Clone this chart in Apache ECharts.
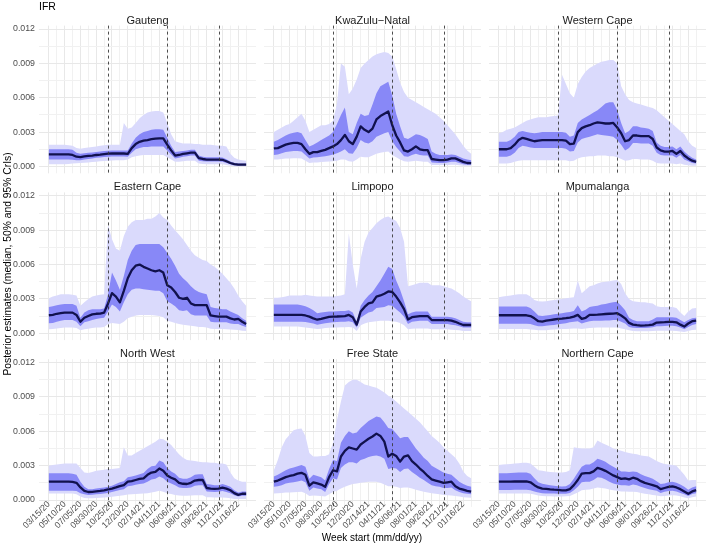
<!DOCTYPE html>
<html><head><meta charset="utf-8">
<script src="https://cdn.jsdelivr.net/npm/echarts@6/dist/echarts.min.js"></script>
<style>html,body{margin:0;padding:0;background:#fff}#c{width:707px;height:552px}</style>
</head><body><div id="c"></div>
<script>
// ---- data (IFR values stored in units of 0.001, i.e. per mille) ----
const weeks = [0,2,4,6,8,10,12,14,16,18,20,22,24,26,28,30,32,34,36,38,40,42,44,46,48,50,52,54,56,58,60,62,64,66,68,70,72,74,76,78,80,82,84,86,88,90,92,94,96,98,100];
const tickWeeks = [0,8,16,24,32,40,48,56,64,72,80,88,96];
const tickLabels = ['03/15/20','05/10/20','07/05/20','08/30/20','10/25/20','12/20/20','02/14/21','04/11/21','06/06/21','08/01/21','09/26/21','11/21/21','01/16/22'];
const yTickValues = [0,0.003,0.006,0.009,0.012];
const yTickLabels = ['0.000','0.003','0.006','0.009','0.012'];
const waveWeeks = [30,60,86];
const provinceNames = ['Gauteng','KwaZulu\u2212Natal','Western Cape','Eastern Cape','Limpopo','Mpumalanga','North West','Free State','Northern Cape'];

const gautengMed = [1.05,1.05,1.05,1.05,1.05,1.05,1.0,0.85,0.82,0.88, 0.92,0.95,1.0,1.03,1.08,1.12,1.13,1.13,1.13,1.13, 1.1,1.6,1.95,2.15,2.25,2.3,2.38,2.42,2.45,2.45, 1.9,1.4,0.95,1.0,1.1,1.15,1.2,1.2,0.72,0.65, 0.6,0.6,0.6,0.6,0.58,0.45,0.3,0.2,0.15,0.15, 0.15];
const gautengHi50 = [1.5,1.5,1.5,1.5,1.5,1.5,1.45,1.2,1.1,1.15, 1.2,1.22,1.25,1.3,1.35,1.38,1.4,1.4,1.4,1.4, 1.4,2.0,2.5,2.8,3.0,3.1,3.2,3.25,3.25,3.2, 2.5,1.8,1.25,1.3,1.35,1.4,1.45,1.45,0.95,0.85, 0.8,0.8,0.8,0.8,0.78,0.62,0.42,0.3,0.25,0.25, 0.25];
const gautengLo50 = [0.6,0.6,0.6,0.6,0.6,0.6,0.58,0.55,0.55,0.6, 0.65,0.7,0.75,0.78,0.82,0.85,0.87,0.87,0.87,0.87, 0.85,1.2,1.5,1.6,1.7,1.7,1.75,1.75,1.75,1.75, 1.4,1.05,0.7,0.75,0.85,0.9,0.95,0.95,0.5,0.45, 0.42,0.42,0.42,0.42,0.4,0.3,0.18,0.1,0.08,0.08, 0.08];
const gautengHi95 = [1.9,1.9,1.9,1.9,1.9,1.85,1.8,1.6,1.55,1.6, 1.65,1.7,1.75,1.8,1.85,1.9,1.9,1.9,1.9,3.8, 3.3,3.4,3.8,4.2,4.5,4.7,4.8,4.85,4.85,4.7, 3.8,2.8,2.2,2.1,2.0,2.0,2.0,1.95,1.95,1.9, 1.9,1.9,1.85,1.8,1.8,1.75,1.1,0.75,0.6,0.55, 0.5];
const gautengLo95 = [0.2,0.2,0.2,0.2,0.2,0.22,0.25,0.28,0.3,0.32, 0.35,0.38,0.4,0.45,0.48,0.5,0.52,0.55,0.55,0.55, 0.6,0.8,0.9,0.95,1.0,1.0,1.0,1.0,1.0,1.0, 0.8,0.6,0.4,0.4,0.45,0.5,0.5,0.5,0.25,0.22, 0.2,0.2,0.2,0.2,0.18,0.12,0.05,0.02,0.02,0.02, 0.02];

const kznMed = [1.57,1.6,1.75,1.9,2.0,2.05,2.05,1.95,1.5,1.1, 1.25,1.25,1.35,1.45,1.6,1.75,1.95,2.3,2.75,2.2, 1.95,2.6,3.5,3.2,3.0,3.3,4.1,4.4,4.6,4.8, 3.6,2.7,2.1,1.4,1.3,1.5,1.75,1.5,1.42,1.42, 0.65,0.6,0.55,0.55,0.6,0.7,0.7,0.55,0.4,0.3, 0.28];
const kznHi50 = [2.15,2.3,2.5,2.7,2.85,2.95,3.0,2.9,2.3,1.75, 1.9,2.1,2.3,2.5,2.7,3.0,3.7,4.5,5.15,3.0, 2.8,3.8,4.6,4.4,4.5,5.4,6.4,7.0,7.2,7.4, 6.2,4.6,3.5,2.5,2.4,2.6,2.8,2.75,2.6,2.4, 1.3,1.1,1.0,1.0,1.0,1.05,1.0,0.85,0.7,0.6, 0.55];
const kznLo50 = [1.0,1.05,1.15,1.25,1.3,1.35,1.35,1.3,1.0,0.7, 0.78,0.8,0.85,0.9,0.95,1.05,1.15,1.3,1.5,1.15, 1.1,1.6,2.3,2.1,2.0,2.2,2.6,2.75,2.9,3.0, 2.2,1.7,1.3,0.9,0.85,1.0,1.1,1.0,0.95,0.95, 0.35,0.32,0.3,0.3,0.35,0.4,0.4,0.3,0.2,0.15, 0.15];
const kznHi95 = [3.0,3.2,3.4,3.6,3.7,4.0,4.3,4.6,4.0,3.0, 3.2,3.4,3.6,3.6,3.7,4.0,5.5,9.0,8.7,6.3, 6.8,7.6,8.6,9.0,9.3,9.6,9.8,9.9,10.0,9.9, 9.6,8.5,7.3,6.5,6.0,5.8,5.6,5.4,5.2,5.0, 4.8,4.6,4.3,4.0,3.6,3.2,2.8,2.3,1.8,1.4, 1.1];
const kznLo95 = [0.6,0.6,0.65,0.7,0.7,0.72,0.72,0.7,0.5,0.3, 0.35,0.35,0.38,0.4,0.42,0.45,0.5,0.6,0.6,0.45, 0.4,0.6,0.85,0.8,0.8,0.95,1.1,1.2,1.25,1.3, 1.0,0.8,0.6,0.45,0.4,0.45,0.5,0.45,0.4,0.4, 0.12,0.12,0.12,0.12,0.12,0.15,0.15,0.1,0.07,0.05, 0.05];

const westernCapeMed = [1.5,1.5,1.5,1.6,1.9,2.3,2.5,2.4,2.3,2.2, 2.25,2.3,2.3,2.3,2.3,2.3,2.3,2.25,1.95,2.0, 3.0,3.35,3.5,3.6,3.75,3.85,3.8,3.75,3.75,3.8, 3.4,2.9,2.2,2.3,2.7,2.7,2.65,2.65,2.65,2.4, 1.65,1.4,1.3,1.3,1.35,1.1,1.35,0.95,0.7,0.5, 0.4];
const westernCapeHi50 = [2.15,2.15,2.15,2.3,2.6,3.0,3.1,3.0,2.95,2.9, 2.95,3.0,3.0,3.0,3.0,3.0,3.0,2.95,2.6,2.7, 3.8,4.1,4.3,4.5,4.7,4.9,5.2,5.5,5.6,5.6, 4.9,3.8,2.9,3.1,3.5,3.5,3.4,3.35,3.3,3.1, 2.1,1.8,1.7,1.7,1.75,1.5,1.75,1.3,1.0,0.75, 0.6];
const westernCapeLo50 = [0.85,0.85,0.85,0.95,1.2,1.6,1.8,1.75,1.65,1.6, 1.6,1.6,1.6,1.6,1.6,1.6,1.6,1.55,1.3,1.35, 2.1,2.4,2.5,2.6,2.7,2.8,2.75,2.7,2.65,2.6, 2.3,1.9,1.4,1.6,2.05,2.05,2.0,2.0,2.0,1.8, 1.2,1.0,0.95,0.95,0.95,0.75,1.0,0.6,0.45,0.3, 0.25];
const westernCapeHi95 = [2.9,3.0,3.2,3.3,3.4,3.6,3.8,4.0,4.1,4.2, 4.3,4.3,4.3,4.35,4.4,4.45,8.0,7.2,6.4,6.0, 7.2,7.8,8.3,8.6,8.8,9.0,9.15,9.2,9.3,9.3, 9.0,7.0,6.3,5.8,5.6,5.5,5.4,5.3,5.2,5.1, 4.9,4.6,4.3,4.0,3.7,3.4,3.1,2.8,2.2,1.8, 1.6];
const westernCapeLo95 = [0.25,0.25,0.25,0.3,0.4,0.5,0.55,0.55,0.55,0.55, 0.55,0.55,0.55,0.55,0.55,0.55,0.55,0.55,0.45,0.5, 0.7,0.8,0.85,0.9,0.9,0.95,0.95,0.95,0.9,0.9, 0.8,0.65,0.5,0.55,0.65,0.65,0.6,0.6,0.6,0.5, 0.3,0.25,0.25,0.25,0.25,0.2,0.25,0.15,0.1,0.07, 0.05];

const easternCapeMed = [1.57,1.6,1.7,1.75,1.8,1.8,1.8,1.6,1.0,1.35, 1.5,1.65,1.7,1.72,1.8,2.6,3.5,3.2,2.7,3.7, 4.8,5.5,5.9,6.0,5.8,5.65,5.5,5.4,5.5,5.3, 4.2,4.0,3.6,3.1,3.0,3.1,2.6,2.45,2.45,2.45, 2.45,1.55,1.5,1.45,1.45,1.45,1.3,1.2,1.25,1.0, 0.8];
const easternCapeHi50 = [2.3,2.35,2.45,2.5,2.55,2.55,2.55,2.4,1.35,1.8, 2.0,2.1,2.1,2.1,2.15,3.4,5.3,4.6,3.8,5.0, 6.4,7.2,7.7,7.8,7.8,7.8,7.8,7.8,7.8,7.5, 7.0,6.5,5.9,5.2,4.8,4.5,4.1,3.8,3.6,3.5, 3.4,2.3,2.2,2.15,2.1,2.1,1.9,1.75,1.6,1.3, 1.1];
const easternCapeLo50 = [0.87,0.9,1.0,1.1,1.15,1.15,1.15,1.0,0.6,0.95, 1.05,1.15,1.25,1.3,1.35,1.9,2.5,2.3,1.9,2.7, 3.4,3.8,3.9,3.9,3.85,3.8,3.75,3.7,3.7,3.5, 2.8,2.6,2.35,2.0,1.95,2.0,1.65,1.55,1.55,1.55, 1.55,1.0,0.95,0.95,0.95,0.95,0.85,0.8,0.8,0.65, 0.55];
const easternCapeHi95 = [3.05,3.2,3.3,3.4,3.4,3.4,3.35,3.3,2.4,2.7, 3.0,3.2,3.3,3.35,3.4,9.5,8.2,7.4,7.2,8.5, 9.3,9.7,9.9,9.9,9.9,10.0,10.0,10.2,10.5,10.1, 9.9,9.4,9.0,8.6,8.2,7.7,7.2,6.8,6.6,6.4, 6.3,6.0,5.8,5.5,5.2,4.8,4.4,3.9,3.3,2.8, 2.4];
const easternCapeLo95 = [0.35,0.38,0.42,0.45,0.5,0.5,0.5,0.45,0.25,0.35, 0.4,0.45,0.5,0.5,0.55,0.8,0.9,0.85,0.8,1.0, 1.3,1.45,1.55,1.6,1.6,1.6,1.6,1.55,1.5,1.4, 1.1,1.0,0.9,0.8,0.75,0.7,0.65,0.6,0.55,0.55, 0.5,0.4,0.38,0.37,0.36,0.35,0.32,0.3,0.28,0.22, 0.2];

const limpopoMed = [1.6,1.6,1.6,1.6,1.6,1.6,1.6,1.6,1.55,1.45, 1.3,1.18,1.25,1.35,1.42,1.45,1.46,1.48,1.5,1.6, 1.4,0.75,1.9,2.3,2.6,2.7,3.2,3.3,3.45,3.65, 3.6,3.2,2.7,2.1,1.2,1.4,1.45,1.5,1.5,1.5, 1.15,1.15,1.15,1.15,1.15,1.1,1.0,0.85,0.72,0.72, 0.72];
const limpopoHi50 = [2.5,2.5,2.5,2.5,2.5,2.5,2.5,2.45,2.35,2.2, 2.0,1.75,1.8,1.85,1.9,1.9,1.92,1.95,1.95,2.0, 1.8,1.0,2.4,2.9,3.3,3.6,4.1,4.6,5.2,5.8, 5.6,4.6,3.8,2.8,1.65,1.8,1.9,1.9,1.9,1.9, 1.45,1.45,1.45,1.45,1.45,1.4,1.3,1.15,1.0,0.95, 0.95];
const limpopoLo50 = [1.0,1.0,1.0,1.0,1.0,1.0,1.0,1.0,0.98,0.92, 0.85,0.75,0.8,0.88,0.92,0.95,0.97,1.0,1.0,1.05, 0.95,0.5,1.35,1.6,1.8,1.9,2.2,2.25,2.3,2.45, 2.4,2.1,1.8,1.45,0.8,1.0,1.05,1.1,1.1,1.1, 0.8,0.8,0.8,0.8,0.8,0.75,0.7,0.6,0.5,0.5, 0.5];
const limpopoHi95 = [3.1,3.1,3.15,3.2,3.3,3.3,3.3,3.3,3.35,3.3, 3.25,3.2,3.2,3.2,3.2,3.2,3.25,3.3,3.4,8.7, 6.0,3.9,6.5,8.0,8.8,9.2,9.6,9.9,10.1,10.2, 10.0,9.8,9.2,8.0,4.1,4.2,4.3,4.4,4.4,4.4, 4.2,4.2,4.2,4.1,4.0,3.9,3.7,3.5,3.2,3.0, 2.8];
const limpopoLo95 = [0.58,0.58,0.58,0.58,0.58,0.58,0.58,0.55,0.5,0.45, 0.42,0.38,0.4,0.45,0.48,0.5,0.5,0.52,0.52,0.55, 0.5,0.2,0.7,0.85,0.95,1.0,1.05,1.1,1.1,1.1, 1.05,1.0,0.9,0.7,0.35,0.4,0.42,0.42,0.42,0.42, 0.35,0.35,0.35,0.35,0.35,0.3,0.28,0.25,0.2,0.2, 0.2];

const mpumalangaMed = [1.57,1.57,1.57,1.57,1.57,1.57,1.57,1.57,1.5,1.3, 1.05,1.02,1.1,1.15,1.2,1.25,1.28,1.32,1.37,1.45, 1.6,1.25,1.35,1.6,1.6,1.62,1.65,1.68,1.7,1.72, 1.75,1.55,1.3,0.9,0.75,0.7,0.67,0.68,0.7,0.75, 0.93,0.95,0.97,1.0,1.0,0.95,0.75,0.58,0.85,1.05, 1.1];
const mpumalangaHi50 = [2.33,2.33,2.33,2.33,2.33,2.33,2.33,2.33,2.2,1.9, 1.55,1.5,1.55,1.6,1.65,1.7,1.75,1.8,1.85,1.95, 2.45,1.9,2.05,2.3,2.35,2.4,2.5,2.55,2.65,2.7, 2.75,2.4,2.0,1.35,1.15,1.05,1.05,1.05,1.05,1.2, 1.4,1.4,1.4,1.4,1.4,1.35,1.15,0.95,1.15,1.3, 1.35];
const mpumalangaLo50 = [0.82,0.82,0.82,0.82,0.82,0.82,0.82,0.82,0.8,0.7, 0.6,0.6,0.65,0.7,0.72,0.78,0.82,0.88,0.95,1.0, 1.05,0.85,0.95,1.05,1.08,1.1,1.1,1.12,1.12,1.15, 1.15,1.0,0.85,0.55,0.48,0.45,0.45,0.45,0.48,0.52, 0.6,0.62,0.64,0.65,0.65,0.62,0.5,0.35,0.55,0.72, 0.8];
const mpumalangaHi95 = [3.15,3.2,3.25,3.3,3.35,3.4,3.4,3.4,3.2,2.9, 2.8,2.78,2.8,2.85,2.9,2.95,3.0,3.05,3.1,3.15, 4.6,3.5,3.8,4.1,4.2,4.35,4.45,4.5,4.55,4.6, 4.65,4.3,3.5,3.0,2.8,2.75,2.7,2.7,2.65,2.6, 2.35,2.3,2.3,2.3,2.3,2.2,1.8,1.5,1.9,2.15, 2.2];
const mpumalangaLo95 = [0.38,0.38,0.38,0.38,0.38,0.38,0.38,0.36,0.33,0.3, 0.26,0.25,0.27,0.3,0.32,0.34,0.36,0.38,0.4,0.42, 0.42,0.38,0.42,0.45,0.48,0.5,0.5,0.5,0.5,0.5, 0.5,0.42,0.35,0.25,0.2,0.18,0.18,0.18,0.18,0.2, 0.22,0.22,0.22,0.22,0.22,0.2,0.15,0.1,0.2,0.28, 0.3];

const northWestMed = [1.6,1.6,1.6,1.6,1.6,1.6,1.58,1.5,1.1,0.8, 0.7,0.72,0.76,0.8,0.85,0.92,1.0,1.1,1.22,1.3, 1.6,1.65,1.75,1.85,1.9,2.2,2.4,2.45,2.75,2.55, 2.15,1.95,1.8,1.5,1.42,1.4,1.5,1.7,1.75,1.75, 1.05,1.0,0.97,1.0,1.08,1.0,0.85,0.6,0.45,0.55, 0.55];
const northWestHi50 = [2.33,2.33,2.33,2.33,2.33,2.33,2.3,2.2,1.6,1.15, 0.95,0.95,1.0,1.05,1.1,1.15,1.25,1.4,1.55,1.65, 2.0,2.05,2.15,2.25,2.35,2.7,2.95,3.0,3.45,3.3, 2.8,2.5,2.3,1.95,1.85,1.85,2.0,2.2,2.25,2.25, 1.4,1.35,1.3,1.3,1.4,1.3,1.15,0.85,0.65,0.75, 0.75];
const northWestLo50 = [0.82,0.82,0.82,0.82,0.82,0.82,0.8,0.78,0.6,0.5, 0.45,0.47,0.5,0.53,0.57,0.62,0.7,0.78,0.88,0.95, 1.2,1.25,1.33,1.4,1.45,1.6,1.8,1.85,2.05,1.9, 1.6,1.45,1.3,1.1,1.05,1.05,1.1,1.25,1.3,1.3, 0.75,0.72,0.7,0.72,0.78,0.7,0.6,0.42,0.3,0.38, 0.38];
const northWestHi95 = [3.0,3.05,3.1,3.15,3.2,3.2,3.2,3.2,2.8,2.4, 2.35,2.45,2.55,2.6,2.65,2.7,2.7,2.75,2.8,4.6, 3.9,3.9,4.1,4.3,4.5,4.7,4.9,5.1,5.35,5.3, 5.1,4.8,4.4,4.0,3.7,3.5,3.45,3.4,3.35,3.3, 3.3,3.25,3.25,3.2,3.2,3.1,2.4,1.9,1.7,1.6, 1.6];
const northWestLo95 = [0.58,0.58,0.58,0.58,0.58,0.58,0.56,0.5,0.3,0.18, 0.15,0.16,0.18,0.2,0.22,0.25,0.28,0.32,0.38,0.42, 0.48,0.5,0.52,0.55,0.58,0.6,0.65,0.72,0.8,0.72, 0.6,0.52,0.45,0.4,0.38,0.38,0.4,0.42,0.42,0.42, 0.25,0.24,0.22,0.22,0.22,0.2,0.15,0.1,0.08,0.1, 0.1];

const freeStateMed = [1.6,1.7,1.85,2.0,2.1,2.18,2.3,2.38,2.2,1.25, 1.55,1.45,1.35,1.15,2.0,2.6,2.5,3.8,4.3,4.6, 4.5,4.4,4.85,5.1,5.35,5.55,5.8,5.6,5.1,3.8, 4.05,3.85,3.35,3.8,3.9,3.4,3.1,2.75,2.45,2.1, 1.8,1.7,1.6,1.5,1.55,1.6,1.2,1.0,0.9,0.8, 0.73];
const freeStateHi50 = [2.05,2.2,2.4,2.6,2.75,2.85,2.95,3.05,2.9,1.85, 2.2,2.1,2.0,1.7,2.7,3.5,3.4,5.0,5.6,6.0, 5.8,5.9,6.3,6.6,6.9,7.1,7.3,7.2,6.8,6.3, 6.2,5.8,5.4,5.5,5.5,5.0,4.5,4.1,3.7,3.4, 3.0,2.8,2.6,2.4,2.3,2.2,1.9,1.6,1.4,1.25, 1.15];
const freeStateLo50 = [1.16,1.2,1.3,1.45,1.5,1.55,1.62,1.7,1.55,0.8, 1.1,1.0,0.95,0.7,1.4,1.9,1.8,2.8,3.1,3.3, 3.3,3.2,3.5,3.6,3.75,3.85,3.9,3.8,3.6,2.7, 2.8,2.75,2.45,2.7,2.75,2.45,2.2,1.95,1.75,1.5, 1.3,1.2,1.15,1.05,1.05,1.1,0.85,0.7,0.6,0.55, 0.5];
const freeStateHi95 = [2.6,3.5,4.6,5.3,5.7,6.1,6.2,6.25,5.6,4.1, 3.8,3.8,3.85,3.85,4.0,5.0,7.0,8.6,10.0,10.3, 10.5,10.5,10.3,10.1,10.0,9.9,9.8,9.6,9.4,9.1, 8.9,8.6,8.3,8.0,7.7,7.4,7.1,6.8,6.4,6.0, 5.6,5.3,5.0,4.6,4.3,4.0,3.7,3.2,2.5,2.1, 1.9];
const freeStateLo95 = [0.58,0.6,0.62,0.65,0.66,0.68,0.7,0.72,0.6,0.35, 0.4,0.38,0.35,0.3,0.5,0.7,0.8,1.0,1.15,1.3, 1.4,1.45,1.5,1.55,1.6,1.6,1.6,1.5,1.35,1.2, 1.2,1.15,1.05,1.1,1.1,1.0,0.9,0.8,0.72,0.65, 0.6,0.55,0.5,0.45,0.42,0.4,0.35,0.3,0.25,0.22, 0.2];

const northernCapeMed = [1.6,1.6,1.6,1.6,1.62,1.62,1.62,1.62,1.55,1.3, 1.1,1.0,0.97,0.93,0.9,0.88,0.85,0.85,0.95,1.3, 1.75,2.3,2.35,2.35,2.5,2.8,2.7,2.55,2.35,2.15, 2.0,1.85,1.9,1.8,1.95,1.85,1.65,1.5,1.4,1.3, 1.2,0.95,1.05,1.15,1.2,1.1,0.95,0.75,0.55,0.75, 0.87];
const northernCapeHi50 = [2.33,2.33,2.33,2.35,2.38,2.4,2.4,2.4,2.3,1.9, 1.55,1.42,1.35,1.3,1.25,1.2,1.18,1.2,1.4,1.85, 2.4,2.9,3.1,3.1,3.3,3.6,3.5,3.35,3.1,2.9, 2.7,2.5,2.5,2.45,2.5,2.45,2.25,2.1,2.0,1.85, 1.65,1.4,1.45,1.55,1.6,1.5,1.35,1.15,0.9,1.1, 1.2];
const northernCapeLo50 = [0.87,0.87,0.87,0.88,0.9,0.9,0.9,0.9,0.85,0.75, 0.65,0.6,0.58,0.57,0.56,0.55,0.54,0.55,0.62,0.85, 1.15,1.55,1.6,1.6,1.75,2.0,1.95,1.8,1.6,1.45, 1.35,1.3,1.3,1.25,1.35,1.3,1.15,1.05,0.95,0.88, 0.8,0.62,0.72,0.78,0.82,0.75,0.62,0.5,0.35,0.52, 0.6];
const northernCapeHi95 = [3.06,3.1,3.12,3.15,3.2,3.22,3.25,3.25,3.2,2.9, 2.6,2.55,2.5,2.45,2.42,2.4,2.4,2.45,2.6,4.6, 4.55,4.5,4.5,4.5,4.6,5.2,5.0,4.85,4.7,4.5, 4.4,4.3,4.2,4.1,4.05,4.0,3.9,3.85,3.8,3.6, 3.4,3.25,3.15,3.1,3.05,3.0,2.6,2.2,1.7,1.75, 1.75];
const northernCapeLo95 = [0.58,0.58,0.58,0.58,0.58,0.58,0.58,0.58,0.55,0.48, 0.4,0.36,0.34,0.32,0.31,0.3,0.3,0.32,0.36,0.5, 0.65,0.85,0.9,0.92,1.0,1.1,1.05,1.0,0.92,0.85, 0.8,0.75,0.75,0.72,0.72,0.7,0.62,0.55,0.5,0.45, 0.4,0.32,0.36,0.4,0.42,0.4,0.32,0.22,0.15,0.25, 0.3];

const panelData = [
  [gautengMed, gautengLo50, gautengHi50, gautengLo95, gautengHi95],
  [kznMed, kznLo50, kznHi50, kznLo95, kznHi95],
  [westernCapeMed, westernCapeLo50, westernCapeHi50, westernCapeLo95, westernCapeHi95],
  [easternCapeMed, easternCapeLo50, easternCapeHi50, easternCapeLo95, easternCapeHi95],
  [limpopoMed, limpopoLo50, limpopoHi50, limpopoLo95, limpopoHi95],
  [mpumalangaMed, mpumalangaLo50, mpumalangaHi50, mpumalangaLo95, mpumalangaHi95],
  [northWestMed, northWestLo50, northWestHi50, northWestLo95, northWestHi95],
  [freeStateMed, freeStateLo50, freeStateHi50, freeStateLo95, freeStateHi95],
  [northernCapeMed, northernCapeLo50, northernCapeHi50, northernCapeLo95, northernCapeHi95]
];

// ---- layout / style ----
const FONT = '"Liberation Sans", Arial, Helvetica, sans-serif';
const GX0 = 39, GDX = 225, GW = 217, GY0 = 25.6, GDY = 166.8, GH = 147.7;
const C95 = '#dadafc', C50 = '#8888f7', CMED = '#11114d';
const UNIT = 1000;

const chart = echarts.init(document.getElementById('c'), null, {renderer: 'canvas'});
const grids = [], xAxes = [], yAxes = [], series = [], graphics = [];

function crisp(v) { return Math.round(v - 0.5) + 0.5; }

// background grid: vertical lines every 4 weeks, horizontal every 0.0015
function gridSeries(i) {
  return {
    type: 'custom', xAxisIndex: i, yAxisIndex: i, silent: true, z: 0, clip: false,
    data: [[0, 0]], encode: {x: 0, y: 1},
    renderItem: function (params, api) {
      const cs = params.coordSys;
      const children = [];
      for (let w = 0; w <= 100; w += 4) {
        const major = tickWeeks.indexOf(w) >= 0;
        const x = crisp(api.coord([w, 0])[0]);
        children.push({type: 'line', shape: {x1: x, y1: cs.y, x2: x, y2: cs.y + cs.height},
          style: {stroke: major ? '#e8e8e8' : '#f1f1f1', lineWidth: 1}});
      }
      for (let k = 0; k <= 8; k++) {
        const major = k % 2 === 0;
        const y = crisp(api.coord([0, k * 0.0015])[1]);
        children.push({type: 'line', shape: {x1: cs.x, y1: y, x2: cs.x + cs.width, y2: y},
          style: {stroke: major ? '#e8e8e8' : '#f1f1f1', lineWidth: 1}});
      }
      return {type: 'group', children: children};
    }
  };
}

function waveSeries(i) {
  return {
    type: 'custom', xAxisIndex: i, yAxisIndex: i, silent: true, z: 5, clip: false,
    data: [[0, 0]], encode: {x: 0, y: 1},
    renderItem: function (params, api) {
      const cs = params.coordSys;
      return {type: 'group', children: waveWeeks.map(function (w) {
        const x = Math.round(api.coord([w, 0])[0]) + 0.5;
        return {type: 'line', shape: {x1: x, y1: cs.y, x2: x, y2: cs.y + cs.height},
          style: {stroke: '#3a3a3a', lineWidth: 0.9, lineDash: [3, 3]}};
      })};
    }
  };
}

function bandSeries(i, lo, hi, color, z) {
  return {
    type: 'custom', xAxisIndex: i, yAxisIndex: i, silent: true, z: z, clip: true,
    data: [[0, 0]], encode: {x: 0, y: 1},
    renderItem: function (params, api) {
      const n = Math.min(weeks.length, lo.length, hi.length);
      const pts = [];
      for (let k = 0; k < n; k++) pts.push(api.coord([weeks[k], hi[k] / UNIT]));
      for (let k = n - 1; k >= 0; k--) pts.push(api.coord([weeks[k], lo[k] / UNIT]));
      return {type: 'polygon', shape: {points: pts}, style: {fill: color}};
    }
  };
}

panelData.forEach(function (pd, i) {
  const r = Math.floor(i / 3), c = i % 3;
  const left = GX0 + GDX * c, top = GY0 + GDY * r;
  grids.push({left: left, top: top, width: GW, height: GH, containLabel: false, outerBoundsMode: 'none'});
  xAxes.push({
    type: 'value', gridIndex: i, min: -5, max: 105, interval: 1,
    axisLine: {show: false}, axisTick: {show: false}, splitLine: {show: false}, minorSplitLine: {show: false},
    axisLabel: {
      show: r === 2, rotate: 45, fontSize: 8.8, color: '#4d4d4d', fontFamily: FONT, margin: -4,
      formatter: function (v) {
        const rv = Math.round(v);
        if (Math.abs(v - rv) > 1e-6) return '';
        const k = tickWeeks.indexOf(rv);
        return k >= 0 ? tickLabels[k] : '';
      }
    }
  });
  yAxes.push({
    type: 'value', gridIndex: i, min: -0.0006, max: 0.0123, interval: 0.0003,
    axisLine: {show: false}, axisTick: {show: false}, splitLine: {show: false}, minorSplitLine: {show: false},
    axisLabel: {
      show: c === 0, fontSize: 8.8, color: '#4d4d4d', fontFamily: FONT, margin: 4,
      formatter: function (v) {
        for (let k = 0; k < yTickValues.length; k++) {
          if (Math.abs(v - yTickValues[k]) < 1e-9) return yTickLabels[k];
        }
        return '';
      }
    }
  });

  const med = pd[0], lo50 = pd[1], hi50 = pd[2], lo95 = pd[3], hi95 = pd[4];
  series.push(gridSeries(i));
  series.push(bandSeries(i, lo95, hi95, C95, 1));
  series.push(bandSeries(i, lo50, hi50, C50, 2));
  series.push({
    type: 'line', xAxisIndex: i, yAxisIndex: i, symbol: 'none', silent: true, z: 3,
    data: med.map(function (v, k) { return [weeks[k], v / UNIT]; }),
    lineStyle: {color: CMED, width: 2.3, join: 'round'}
  });
  series.push(waveSeries(i));

  graphics.push({
    type: 'text', x: left + GW / 2, y: top - 5, silent: true,
    style: {text: provinceNames[i], fontSize: 11, fontFamily: FONT, fill: '#1a1a1a',
            align: 'center', verticalAlign: 'middle', textAlign: 'center', textVerticalAlign: 'middle'}
  });
});

graphics.push({
  type: 'text', x: 39, y: 7, silent: true,
  style: {text: 'IFR', fontSize: 10.5, fontFamily: FONT, fill: '#000',
          align: 'left', verticalAlign: 'middle', textAlign: 'left', textVerticalAlign: 'middle'}
});
graphics.push({
  type: 'text', x: 8, y: 264, rotation: Math.PI / 2, silent: true,
  style: {text: 'Posterior estimates (median, 50% and 95% CrIs)', fontSize: 10.3, fontFamily: FONT, fill: '#000',
          align: 'center', verticalAlign: 'middle', textAlign: 'center', textVerticalAlign: 'middle'}
});
graphics.push({
  type: 'text', x: 372, y: 538, silent: true,
  style: {text: 'Week start (mm/dd/yy)', fontSize: 10, fontFamily: FONT, fill: '#000',
          align: 'center', verticalAlign: 'middle', textAlign: 'center', textVerticalAlign: 'middle'}
});

chart.setOption({
  animation: false,
  backgroundColor: '#ffffff',
  grid: grids, xAxis: xAxes, yAxis: yAxes, series: series, graphic: graphics
});
</script>
</body></html>
